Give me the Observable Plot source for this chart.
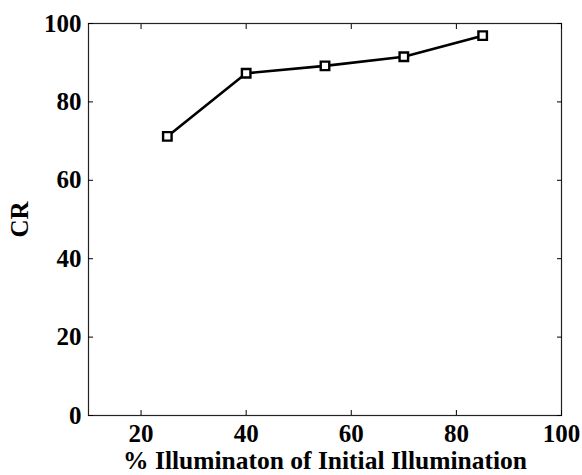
<!DOCTYPE html>
<html>
<head>
<meta charset="utf-8">
<script src="https://cdn.jsdelivr.net/npm/d3@7"></script>
<script src="https://cdn.jsdelivr.net/npm/@observablehq/plot@0.6"></script>
<style>
  html, body { margin: 0; padding: 0; background: #fff; }
</style>
</head>
<body>
<div id="chart"></div>
<script>
const illumination = [25, 40, 55, 70, 85];
const cr = [71.2, 87.3, 89.2, 91.5, 96.9];
const xTicks = [20, 40, 60, 80, 100];
const yTicks = [0, 20, 40, 60, 80, 100];

const data = illumination.map((x, i) => ({x, y: cr[i]}));
const font = "'Liberation Serif', 'Times New Roman', serif";

const chart = Plot.plot({
  width: 582,
  height: 475,
  marginLeft: 88,
  marginRight: 21,
  marginTop: 23,
  marginBottom: 60,
  style: {fontFamily: font, fontWeight: "bold", fontSize: "25px", background: "#fff", color: "#000"},
  x: {domain: [10, 100], ticks: xTicks},
  y: {domain: [0, 100], ticks: yTicks},
  marks: [
    Plot.frame({stroke: "#222", strokeWidth: 1.2}),
    Plot.axisX({anchor: "bottom", ticks: xTicks, tickSize: -5, tickPadding: 14, fontSize: 25, label: null}),
    Plot.axisX({anchor: "bottom", ticks: [], label: "% Illuminaton of Initial Illumination", labelAnchor: "center", labelArrow: "none", labelOffset: 53, fontSize: 25.5}),
    Plot.axisX({anchor: "top", ticks: xTicks, tickSize: -5, text: null, label: null}),
    Plot.axisY({anchor: "left", ticks: yTicks, tickSize: -5, tickPadding: 12, fontSize: 25, label: "CR", labelAnchor: "center", labelArrow: "none", labelOffset: 78}),
    Plot.axisY({anchor: "right", ticks: yTicks, tickSize: -5, text: null, label: null}),
    Plot.line(data, {x: "x", y: "y", stroke: "#000", strokeWidth: 2.6}),
    Plot.dot(data, {x: "x", y: "y", symbol: "square", r: 4.8, stroke: "#000", strokeWidth: 2.4, fill: "#fff"})
  ]
});
document.getElementById("chart").appendChild(chart);
</script>
</body>
</html>
